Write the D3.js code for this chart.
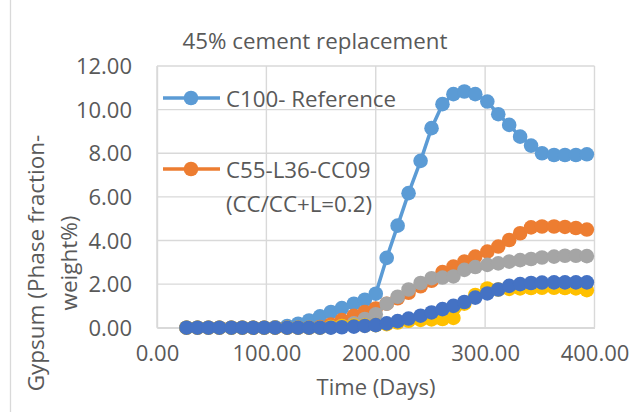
<!DOCTYPE html>
<html>
<head>
<meta charset="utf-8">
<script src="https://cdn.jsdelivr.net/npm/d3@7/dist/d3.min.js"></script>
<style>
  html, body { margin: 0; padding: 0; background: #ffffff; }
  svg { display: block; }
  text { font-family: "Open Sans", "Noto Sans", sans-serif; fill: #595959; }
</style>
</head>
<body>
<svg id="chart" width="637" height="412"></svg>
<script>
// ---- data ----
const days = [27,37,47,57,68,78,88,98,108,119,129,139,149,159,169,180,190,200,210,220,230,241,251,261,271,281,291,302,312,322,332,342,352,363,373,383,393];

const c100 = [0,0,0,0,0,0,0,0,0.02,0.08,0.18,0.33,0.52,0.72,0.9,1.1,1.28,1.56,3.2,4.68,6.17,7.65,9.15,10.25,10.71,10.83,10.71,10.37,9.79,9.3,8.76,8.35,8.0,7.92,7.92,7.92,7.95];
const c55l36 = [0,0,0,0,0,0,0,0,0,0,0,0,0.03,0.15,0.35,0.55,0.72,0.88,1.1,1.35,1.6,1.9,2.15,2.55,2.8,3.03,3.26,3.49,3.72,4.02,4.33,4.6,4.64,4.64,4.62,4.57,4.5];
const seriesGrey = [0,0,0,0,0,0,0,0,0,0,0,0,0,0.02,0.08,0.2,0.4,0.62,1.1,1.42,1.75,2.05,2.27,2.3,2.35,2.65,2.78,2.88,2.95,3.03,3.1,3.15,3.22,3.26,3.3,3.3,3.28];
const seriesYellow = [0,0,0,0,0,0,0,0,0,0,0,0,0,0.03,0.08,0.1,0.1,0.12,0.16,0.24,0.32,0.36,0.38,0.4,0.45,1.1,1.5,1.8,1.75,1.78,1.8,1.82,1.83,1.83,1.82,1.8,1.72];
const seriesDarkBlue = [0,0,0,0,0,0,0,0,0,0,0,0,0,0,0.02,0.05,0.08,0.12,0.2,0.3,0.42,0.55,0.7,0.85,1.0,1.18,1.38,1.57,1.75,1.92,2.0,2.05,2.07,2.08,2.08,2.08,2.08];

const seriesNames = ["C100- Reference", "C55-L36-CC09 (CC/CC+L=0.2)", "Series 3", "Series 4", "Series 5"];
const seriesColors = ["#5B9BD5", "#ED7D31", "#A5A5A5", "#FFC000", "#4472C4"];
const seriesValues = [c100, c55l36, seriesGrey, seriesYellow, seriesDarkBlue];

const xTicks = [0, 100, 200, 300, 400];
const yTicks = [0, 2, 4, 6, 8, 10, 12];
const titleText = "45% cement replacement";
const xTitle = "Time (Days)";
const yTitleLines = ["Gypsum (Phase fraction-", "weight%)"];

// ---- drawing ----
const svg = d3.select("#chart");
svg.append("rect").attr("width", 637).attr("height", 412).attr("fill", "#ffffff");

// outer chart border fragment at left
svg.append("line").attr("x1", 10.5).attr("x2", 10.5).attr("y1", 0).attr("y2", 412)
  .attr("stroke", "#d9d9d9").attr("stroke-width", 1.3);

const x = d3.scaleLinear().domain([0, 400]).range([157, 594.5]);
const y = d3.scaleLinear().domain([0, 12]).range([327.7, 66]);

const grid = svg.append("g");
grid.selectAll("line.h").data(yTicks).join("line")
  .attr("x1", x(0)).attr("x2", x(400))
  .attr("y1", d => y(d)).attr("y2", d => y(d))
  .attr("stroke", "#d9d9d9").attr("stroke-width", 1.4);
grid.selectAll("line.v").data(xTicks).join("line")
  .attr("y1", y(0)).attr("y2", y(12))
  .attr("x1", d => x(d)).attr("x2", d => x(d))
  .attr("stroke", "#d9d9d9").attr("stroke-width", 1.4);

// axes with d3 axis generators (labels only)
const fmt = d3.format(".2f");
const yAxis = svg.append("g").attr("transform", `translate(${x(0)},0)`)
  .call(d3.axisLeft(y).tickValues(yTicks).tickFormat(fmt).tickSize(0).tickPadding(25));
yAxis.select(".domain").attr("stroke", "#d9d9d9").attr("stroke-width", 1.4);
yAxis.selectAll("text").attr("font-size", 22).attr("fill", "#595959")
  .attr("font-family", "Open Sans").attr("dy", "0.35em");

const xAxis = svg.append("g").attr("transform", `translate(0,${y(0)})`)
  .call(d3.axisBottom(x).tickValues(xTicks).tickFormat(fmt).tickSize(0).tickPadding(18));
xAxis.select(".domain").attr("stroke", "#d9d9d9").attr("stroke-width", 1.4);
xAxis.selectAll("text").attr("font-size", 22).attr("fill", "#595959")
  .attr("font-family", "Open Sans");

// series
const line = d3.line().x((d, i) => x(days[i])).y(d => y(d));
const r = 7.3;
seriesValues.forEach((vals, si) => {
  const g = svg.append("g");
  g.append("path").datum(vals).attr("d", line)
    .attr("fill", "none").attr("stroke", seriesColors[si]).attr("stroke-width", 3.5)
    .attr("stroke-linejoin", "round");
  g.selectAll("circle").data(vals).join("circle")
    .attr("cx", (d, i) => x(days[i])).attr("cy", d => y(d)).attr("r", r)
    .attr("fill", seriesColors[si]);
});

// title
svg.append("text").attr("x", 315).attr("y", 40).attr("text-anchor", "middle")
  .attr("dominant-baseline", "central").attr("font-size", 22.3).text(titleText);

// axis titles
svg.append("text").attr("x", 376).attr("y", 386).attr("text-anchor", "middle")
  .attr("dominant-baseline", "central").attr("font-size", 22).text(xTitle);
const yt = svg.append("text").attr("transform", "translate(0,263) rotate(-90)")
  .attr("text-anchor", "middle").attr("font-size", 22.5);
yt.append("tspan").attr("x", 0).attr("y", 35).attr("dominant-baseline", "central").text(yTitleLines[0]);
yt.append("tspan").attr("x", 0).attr("y", 68).attr("dominant-baseline", "central").text(yTitleLines[1]);

// legend (first two series)
const legendRows = [
  { si: 0, y: 98, lines: [seriesNames[0]] },
  { si: 1, y: 169, lines: ["C55-L36-CC09", "(CC/CC+L=0.2)"] }
];
legendRows.forEach(row => {
  const g = svg.append("g");
  g.append("line").attr("x1", 163).attr("x2", 220).attr("y1", row.y).attr("y2", row.y)
    .attr("stroke", seriesColors[row.si]).attr("stroke-width", 3.5);
  g.append("circle").attr("cx", 191).attr("cy", row.y).attr("r", r).attr("fill", seriesColors[row.si]);
  row.lines.forEach((t, li) => {
    g.append("text").attr("x", 226).attr("y", row.y + li * 34)
      .attr("dominant-baseline", "central").attr("font-size", 22.3).text(t);
  });
});
</script>
</body>
</html>
